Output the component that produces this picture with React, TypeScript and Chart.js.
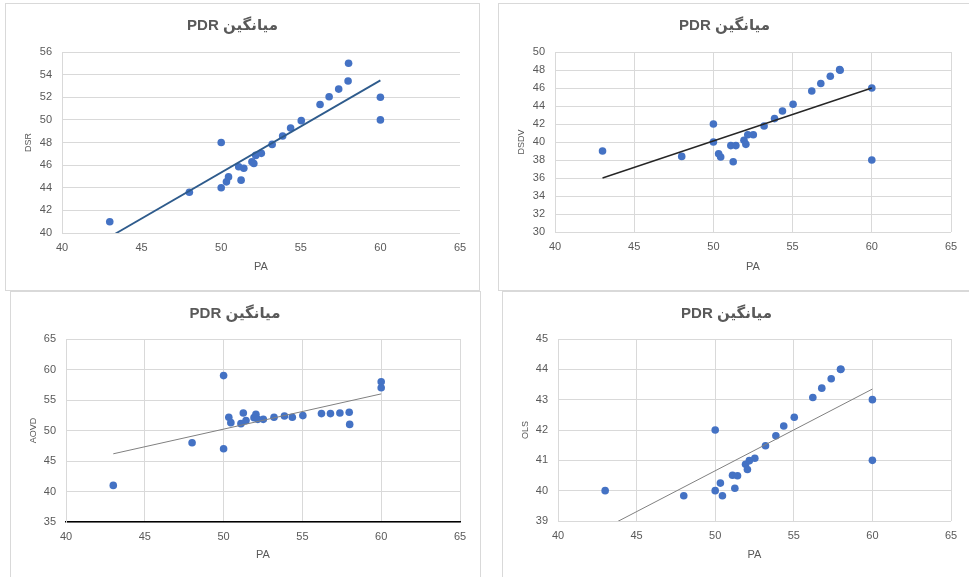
import React, { useEffect, useRef } from "react";
import { Chart, registerables } from "chart.js";

Chart.register(...registerables);

const TITLE = "\u202Bمیانگین PDR\u202C";
const X_LABEL = "PA";
const X_TICKS = [40, 65, 5];

const PA = [43, 48, 50, 50, 50.33, 50.46, 51.1, 51.25, 51.42, 51.93, 52.05, 52.17, 52.52, 53.2, 53.86, 54.36, 55.03, 56.21, 56.78, 57.38, 57.97, 58, 60, 60];
const DSR = [41, 43.6, 48, 44, 44.52, 44.96, 45.85, 44.67, 45.73, 46.3, 46.15, 46.86, 47.04, 47.83, 48.57, 49.28, 49.93, 51.36, 52.04, 52.72, 53.43, 55, 52, 50];
const DSDV = [39, 38.4, 42, 40, 38.7, 38.33, 39.6, 37.8, 39.6, 40.2, 39.74, 40.8, 40.8, 41.78, 42.6, 43.44, 44.2, 45.67, 46.5, 47.3, 48.04, 47.98, 46, 38];
const AOVD = [41, 48, 59, 47, 52.16, 51.29, 51.12, 52.88, 51.62, 52.11, 52.66, 51.83, 51.83, 52.16, 52.38, 52.16, 52.44, 52.77, 52.77, 52.88, 52.99, 51, 58, 57];
const OLS = [40, 39.83, 42, 40, 40.25, 39.83, 40.51, 40.08, 40.49, 40.87, 40.7, 40.99, 41.07, 41.48, 41.81, 42.13, 42.42, 43.07, 43.38, 43.69, 44.0, 44.0, 43, 41];

const TREND_X = [43, 60];
const DSR_TREND = [39.65, 53.49];
const DSDV_TREND = [36.0, 46.0];
const AOVD_TREND = [46.18, 56.0];
const OLS_TREND = [38.77, 43.35];

const DSR_TICKS = [40, 56, 2];
const DSDV_TICKS = [30, 50, 2];
const AOVD_TICKS = [35, 65, 5];
const OLS_TICKS = [39, 45, 1];

const FONT = '"Liberation Sans", "DejaVu Sans", sans-serif';
const TEXT = "#595959";
const GRID = "#d9d9d9";

type Props = {
  left: number; top: number; width: number; height: number;
  yLabel: string; ys: number[]; trend: number[]; yTicks: number[];
  trendColor: string; trendWidth: number; vGrid: boolean; blackXAxis: boolean;
  plotLeft: number; plotRight: number; plotTop: number; plotBottom: number;
};

function ScatterBox(p: Props) {
  const ref = useRef<HTMLCanvasElement>(null);
  useEffect(() => {
    const chart = new Chart(ref.current as HTMLCanvasElement, {
      type: "scatter",
      data: {
        datasets: [
          {
            type: "line",
            data: TREND_X.map((x, i) => ({ x, y: p.trend[i] })),
            borderColor: p.trendColor,
            borderWidth: p.trendWidth,
            pointRadius: 0,
            fill: false,
            order: 0,
          } as any,
          {
            type: "scatter",
            data: PA.map((x, i) => ({ x, y: p.ys[i] })),
            backgroundColor: "#4472C4",
            borderColor: "#4472C4",
            borderWidth: 0,
            pointRadius: 3.8,
            order: 1,
          },
        ],
      },
      options: {
        animation: false,
        responsive: false,
        events: [],
        layout: { padding: { left: 0, right: p.plotRight, top: 0, bottom: 0 } },
        plugins: {
          legend: { display: false },
          tooltip: { enabled: false },
          title: {
            display: true,
            text: TITLE,
            color: TEXT,
            font: { family: FONT, size: 15, weight: "bold", lineHeight: 1.2 },
            padding: { top: 14, bottom: p.plotTop - 14 - 18 },
          },
        },
        scales: {
          x: {
            type: "linear",
            min: X_TICKS[0],
            max: X_TICKS[1],
            ticks: { stepSize: X_TICKS[2], color: TEXT, font: { family: FONT, size: 11 }, padding: 8 },
            grid: { display: p.vGrid, color: GRID, drawTicks: false },
            border: { display: p.blackXAxis, color: "#000", width: 1.6 },
            title: {
              display: true,
              text: X_LABEL,
              color: TEXT,
              font: { family: FONT, size: 11 },
              padding: { top: 0, bottom: 17 },
            },
            afterFit: (s: any) => { s.height = p.plotBottom; },
          },
          y: {
            type: "linear",
            min: p.yTicks[0],
            max: p.yTicks[1],
            ticks: { stepSize: p.yTicks[2], color: TEXT, font: { family: FONT, size: 11 }, padding: 10 },
            grid: { color: GRID, drawTicks: false },
            border: { display: true, color: GRID },
            title: {
              display: true,
              text: p.yLabel,
              color: TEXT,
              font: { family: FONT, size: 9 },
              padding: { top: 18, bottom: 0 },
            },
            afterFit: (s: any) => { s.width = p.plotLeft; },
          },
        },
      } as any,
    });
    return () => chart.destroy();
  }, []);
  return (
    <>
      <div
        style={{
          position: "absolute", left: p.left, top: p.top, width: p.width, height: p.height,
          boxSizing: "border-box", border: "1px solid #d9d9d9", background: "#fff",
        }}
      />
      <canvas
        ref={ref}
        width={p.width}
        height={p.height}
        style={{ position: "absolute", left: p.left, top: p.top, width: p.width, height: p.height }}
      />
    </>
  );
}

export default function App() {
  return (
    <div style={{ position: "fixed", left: 0, top: 0, width: 969, height: 577, overflow: "hidden", background: "#fff" }}>
      <ScatterBox left={5} top={3} width={475} height={288} yLabel="DSR" ys={DSR} trend={DSR_TREND} yTicks={DSR_TICKS}
        trendColor="#2E5B8C" trendWidth={1.8} vGrid={false} blackXAxis={false}
        plotLeft={57} plotRight={20} plotTop={49} plotBottom={58} />
      <ScatterBox left={498} top={3} width={474} height={288} yLabel="DSDV" ys={DSDV} trend={DSDV_TREND} yTicks={DSDV_TICKS}
        trendColor="#262626" trendWidth={1.4} vGrid={true} blackXAxis={false}
        plotLeft={57} plotRight={21} plotTop={49} plotBottom={59} />
      <ScatterBox left={10} top={291} width={471} height={288} yLabel="AOVD" ys={AOVD} trend={AOVD_TREND} yTicks={AOVD_TICKS}
        trendColor="#808080" trendWidth={1} vGrid={true} blackXAxis={true}
        plotLeft={56} plotRight={21} plotTop={48} plotBottom={57} />
      <ScatterBox left={502} top={291} width={471} height={288} yLabel="OLS" ys={OLS} trend={OLS_TREND} yTicks={OLS_TICKS}
        trendColor="#808080" trendWidth={1} vGrid={true} blackXAxis={false}
        plotLeft={56} plotRight={22} plotTop={48} plotBottom={58} />
    </div>
  );
}
